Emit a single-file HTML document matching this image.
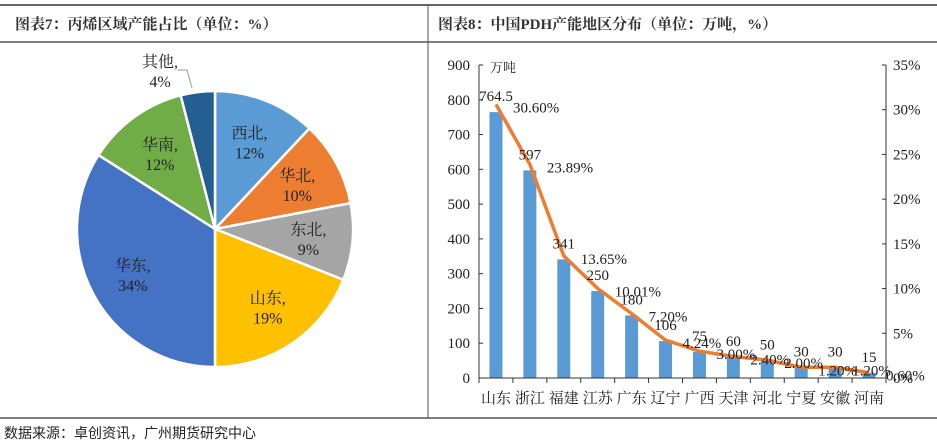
<!DOCTYPE html>
<html><head><meta charset="utf-8"><style>
body{margin:0;background:#fff;width:937px;height:442px;overflow:hidden;position:relative;font-family:"Liberation Serif","Noto Serif CJK SC",serif;}
</style></head><body>
<svg width="937" height="442" style="position:absolute;left:0;top:0">
<line x1="0" y1="5" x2="937" y2="5" stroke="#333" stroke-width="1.5"/>
<line x1="0" y1="42" x2="937" y2="42" stroke="#555" stroke-width="1.5"/>
<line x1="428" y1="5" x2="428" y2="418" stroke="#555" stroke-width="1"/>
<line x1="0" y1="418" x2="937" y2="418" stroke="#555" stroke-width="1.5"/>
<text x="15" y="29" font-size="15" fill="#333" font-weight="bold">图表7：丙烯区域产能占比（单位：%）</text>
<text x="438" y="29" font-size="15" fill="#333" font-weight="bold">图表8：中国PDH产能地区分布（单位：万吨，%）</text>
<g id="pie"></g>
<g id="bar"></g>
<text x="4" y="438" font-size="14" fill="#222" font-family="Liberation Sans, Noto Sans CJK SC, sans-serif">数据来源：卓创资讯，广州期货研究中心</text>
</svg>
<script>
const NS="http://www.w3.org/2000/svg";
const pieLabels=["西北","华北","东北","山东","华东","华南","其他"];
const pieValues=[12,10,9,19,34,12,4];
const pieColors=["#5b9bd5","#ed7d31","#a5a5a5","#ffc000","#4472c4","#70ad47","#255e91"];
const cats=["山东","浙江","福建","江苏","广东","辽宁","广西","天津","河北","宁夏","安徽","河南"];
const vals=[764.5,597,341,250,180,106,75,60,50,30,30,15];
const pcts=[30.60,23.89,13.65,10.01,7.20,4.24,3.00,2.40,2.00,1.20,1.20,0.60];
const yTicks=[0,100,200,300,400,500,600,700,800,900];
const y2Ticks=[0,5,10,15,20,25,30,35];

function mk(tag,attrs,parent){const e=document.createElementNS(NS,tag);for(const k in attrs)e.setAttribute(k,attrs[k]);parent.appendChild(e);return e;}
const pie=document.getElementById('pie');
const cx=215,cy=229,R=138;
const tot=pieValues.reduce((a,b)=>a+b,0);
let a0=-Math.PI/2;
pieValues.forEach((v,i)=>{
 const a1=a0+v/tot*2*Math.PI;
 const large=(a1-a0)>Math.PI?1:0;
 const p=mk('path',{d:`M${cx},${cy}L${cx+R*Math.cos(a0)},${cy+R*Math.sin(a0)}A${R},${R} 0 ${large} 1 ${cx+R*Math.cos(a1)},${cy+R*Math.sin(a1)}Z`,fill:pieColors[i],stroke:"#fff","stroke-width":2.5},pie);
 
 
 const am=(a0+a1)/2;
 let lx=cx+R*0.68*Math.cos(am),ly=cy+R*0.68*Math.sin(am);
 if(pieLabels[i]==="其他"){lx=160;ly=70;
  const l=mk('polyline',{points:"177,70 187,70 192,88",fill:"none",stroke:"#999"},pie);
  
  }
 const t=mk('text',{x:lx,y:ly-3,"text-anchor":"middle","font-size":16,fill:"#222"},pie);
 t.textContent=pieLabels[i]+",";
 
 
 const t2=mk('text',{x:lx,y:ly+17,"text-anchor":"middle","font-size":16,fill:"#222"},pie);
 t2.textContent=v+"%";
 
 
 a0=a1;
});
const bar=document.getElementById('bar');
const X0=479,X1=886,Y0=378,Y1=65;
const step=(X1-X0)/cats.length;
const xc=i=>X0+(i+0.5)*step;
const yv=v=>Y0-v/900*(Y0-Y1);
const yp=p=>Y0-p/35*(Y0-Y1);
vals.forEach((v,i)=>{
 const r=mk('rect',{x:xc(i)-6.5,y:yv(v),width:13,height:Y0-yv(v),fill:"#5b9bd5"},bar);
 
 
});
mk('line',{x1:X0,y1:Y1,x2:X0,y2:Y0,stroke:"#333"},bar);
mk('line',{x1:X1,y1:Y1,x2:X1,y2:Y0,stroke:"#333"},bar);
mk('line',{x1:X0,y1:Y0,x2:X1,y2:Y0,stroke:"#333"},bar);
yTicks.forEach(v=>{
 mk('line',{x1:X0,y1:yv(v),x2:X0+4,y2:yv(v),stroke:"#333"},bar);
 const t=mk('text',{x:X0-9,y:yv(v)+5,"text-anchor":"end","font-size":15,fill:"#222"},bar);
 t.textContent=v;
 
 
});
y2Ticks.forEach(v=>{
 mk('line',{x1:X1-4,y1:yp(v),x2:X1,y2:yp(v),stroke:"#333"},bar);
 const t=mk('text',{x:X1+7,y:yp(v)+5,"font-size":15,fill:"#222"},bar);
 t.textContent=v+"%";
 
 
});
for(let i=0;i<=cats.length;i++)mk('line',{x1:X0+i*step,y1:Y0,x2:X0+i*step,y2:Y0+5,stroke:"#333"},bar);
cats.forEach((c,i)=>{
 const t=mk('text',{x:xc(i),y:Y0+25,"text-anchor":"middle","font-size":15,fill:"#222"},bar);
 t.textContent=c;
 
 
});
const u=mk('text',{x:490,y:72,"font-size":13,fill:"#222"},bar);
u.textContent="万吨";


const pl=mk('polyline',{points:pcts.map((p,i)=>xc(i)+","+yp(p)).join(" "),fill:"none",stroke:"#ed7d31","stroke-width":3.5,"stroke-linejoin":"round"},bar);


vals.forEach((v,i)=>{
 const t=mk('text',{x:xc(i),y:yv(v)-11,"text-anchor":"middle","font-size":15,fill:"#222"},bar);
 t.textContent=v;
 
 
});
pcts.forEach((p,i)=>{
 const t=mk('text',{x:xc(i)+17,y:yp(p)+8,"font-size":15,fill:"#222"},bar);
 t.textContent=p.toFixed(2)+"%";
 
 
});
</script>
</body></html>
